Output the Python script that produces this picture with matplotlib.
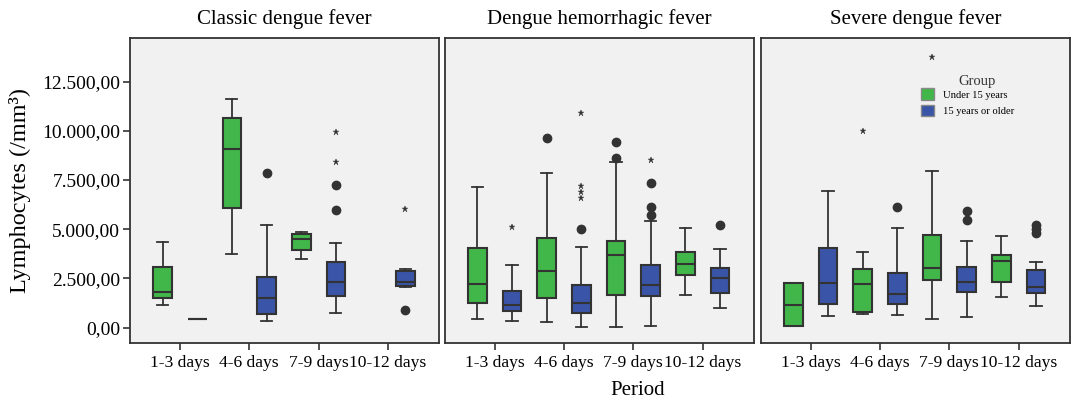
import numpy as np
import matplotlib.pyplot as plt
from matplotlib.patches import Patch

plt.rcParams['font.family'] = ['Liberation Serif', 'DejaVu Serif']

panels = ["Classic dengue fever", "Dengue hemorrhagic fever", "Severe dengue fever"]
periods = ["1-3 days", "4-6 days", "7-9 days", "10-12 days"]
groups = ["Under 15 years", "15 years or older"]

# box stats: [whislo, q1, med, q3, whishi] per period, None = no data
classic_young = [[1150, 1510, 1830, 3100, 4350], [3720, 6080, 9060, 10670, 11630],
                 [3500, 3960, 4490, 4770, 4860], None]
classic_old = [[423, 423, 423, 423, 423], [340, 690, 1510, 2560, 5200],
               [745, 1610, 2340, 3350, 4280], [2050, 2130, 2300, 2900, 3000]]
hemo_young = [[420, 1240, 2240, 4050, 7140], [290, 1490, 2860, 4570, 7870],
              [20, 1640, 3690, 4390, 8430], [1660, 2690, 3220, 3860, 5060]]
hemo_old = [[340, 860, 1170, 1850, 3200], [50, 760, 1240, 2170, 4100],
            [100, 1610, 2180, 3200, 5430], [980, 1780, 2510, 3030, 4000]]
severe_young = [[100, 100, 1150, 2270, 2270], [690, 800, 2200, 2980, 3830],
                [460, 2420, 3050, 4690, 7960], [1570, 2300, 3370, 3670, 4640]]
severe_old = [[610, 1220, 2270, 4050, 6960], [630, 1190, 1690, 2780, 5060],
              [525, 1800, 2340, 3060, 4400], [1080, 1740, 2070, 2930, 3320]]

# outliers (circles) and extremes (stars)
classic_young_out = [[], [], [], []]
classic_old_out = [[], [7860], [7250, 5990], [880]]
hemo_young_out = [[], [9650], [9450, 8600], []]
hemo_old_out = [[], [4990], [7330, 6110, 5700], [5230]]
severe_young_out = [[], [], [], []]
severe_old_out = [[], [6130], [5930, 5470], [5210, 5030, 4790]]

classic_young_ext = [[], [], [], []]
classic_old_ext = [[], [], [9960, 8400], [6040]]
hemo_young_ext = [[], [], [], []]
hemo_old_ext = [[5100], [10890, 7210, 6890, 6590], [8530], []]
severe_young_ext = [[], [9990], [13730], []]
severe_old_ext = [[], [], [], []]

young_stats = [classic_young, hemo_young, severe_young]
old_stats = [classic_old, hemo_old, severe_old]
young_out = [classic_young_out, hemo_young_out, severe_young_out]
old_out = [classic_old_out, hemo_old_out, severe_old_out]
young_ext = [classic_young_ext, hemo_young_ext, severe_young_ext]
old_ext = [classic_old_ext, hemo_old_ext, severe_old_ext]

green = '#41b649'
blue = '#3a54a8'
edge = '#333333'

fig = plt.figure(figsize=(10.72, 4.04), dpi=100)
lefts = [130 / 1072, 444.7 / 1072, 760.7 / 1072]
axes = [fig.add_axes([l, 0.150, 0.2885, 0.755]) for l in lefts]

for i, ax in enumerate(axes):
    ax.set_facecolor('#f1f1f1')
    for stats, outs, exts, col, off in [(young_stats[i], young_out[i], young_ext[i], green, -0.25),
                                        (old_stats[i], old_out[i], old_ext[i], blue, 0.25)]:
        bxps, pos = [], []
        for j, s in enumerate(stats):
            if s is None:
                continue
            bxps.append(dict(whislo=s[0], q1=s[1], med=s[2], q3=s[3], whishi=s[4], fliers=[]))
            pos.append(j + off)
            if outs[j]:
                ax.plot([j + off] * len(outs[j]), outs[j], 'o', color=edge, ms=6, mec=edge)
            if exts[j]:
                ax.plot([j + off] * len(exts[j]), exts[j], '*', color=edge, ms=4.5, mew=0.3)
        ax.bxp(bxps, positions=pos, widths=0.27, patch_artist=True, showfliers=False,
               capwidths=0.16, manage_ticks=False,
               boxprops=dict(facecolor=col, edgecolor=edge, linewidth=1.5),
               medianprops=dict(color=edge, linewidth=1.5),
               whiskerprops=dict(color=edge, linewidth=1.3),
               capprops=dict(color=edge, linewidth=1.3))
    ax.set_xlim(-0.72, 3.74)
    ax.set_ylim(-800, 14700)
    ax.set_xticks(range(len(periods)))
    ax.set_xticklabels(periods, fontsize=12.6)
    ax.tick_params(axis='x', direction='out', length=5, width=1.2, color=edge, pad=3)
    ax.set_title(panels[i], fontsize=15, pad=10)
    for sp in ax.spines.values():
        sp.set_color(edge)
        sp.set_linewidth(1.3)
    if i == 0:
        yt = np.arange(0, 12501, 2500)
        ax.set_yticks(yt)
        ax.set_yticklabels([f"{v:,.2f}".replace(',', ' ').replace('.', ',').replace(' ', '.') for v in yt],
                           fontsize=14)
        ax.tick_params(axis='y', direction='out', length=5, width=1.2, color=edge, pad=2)
        ax.set_ylabel("Lymphocytes (/mm³)", fontsize=17.5, labelpad=8)
    else:
        ax.set_yticks([])

fig.text(0.595, 0.022, "Period", ha='center', fontsize=15)

handles = [Patch(facecolor=green, edgecolor='#888888'), Patch(facecolor=blue, edgecolor='#888888')]
axes[2].text(0.698, 0.86, "Group", transform=axes[2].transAxes, ha='center', va='center',
             fontsize=10.5, color='#333333')
axes[2].legend(handles, groups, loc='upper left',
               bbox_to_anchor=(0.50, 0.853), frameon=False, fontsize=7.6,
               handlelength=1.25, handleheight=1.25,
               handletextpad=0.9, labelspacing=0.5, borderpad=0)

fig.savefig("out.png", dpi=100)
